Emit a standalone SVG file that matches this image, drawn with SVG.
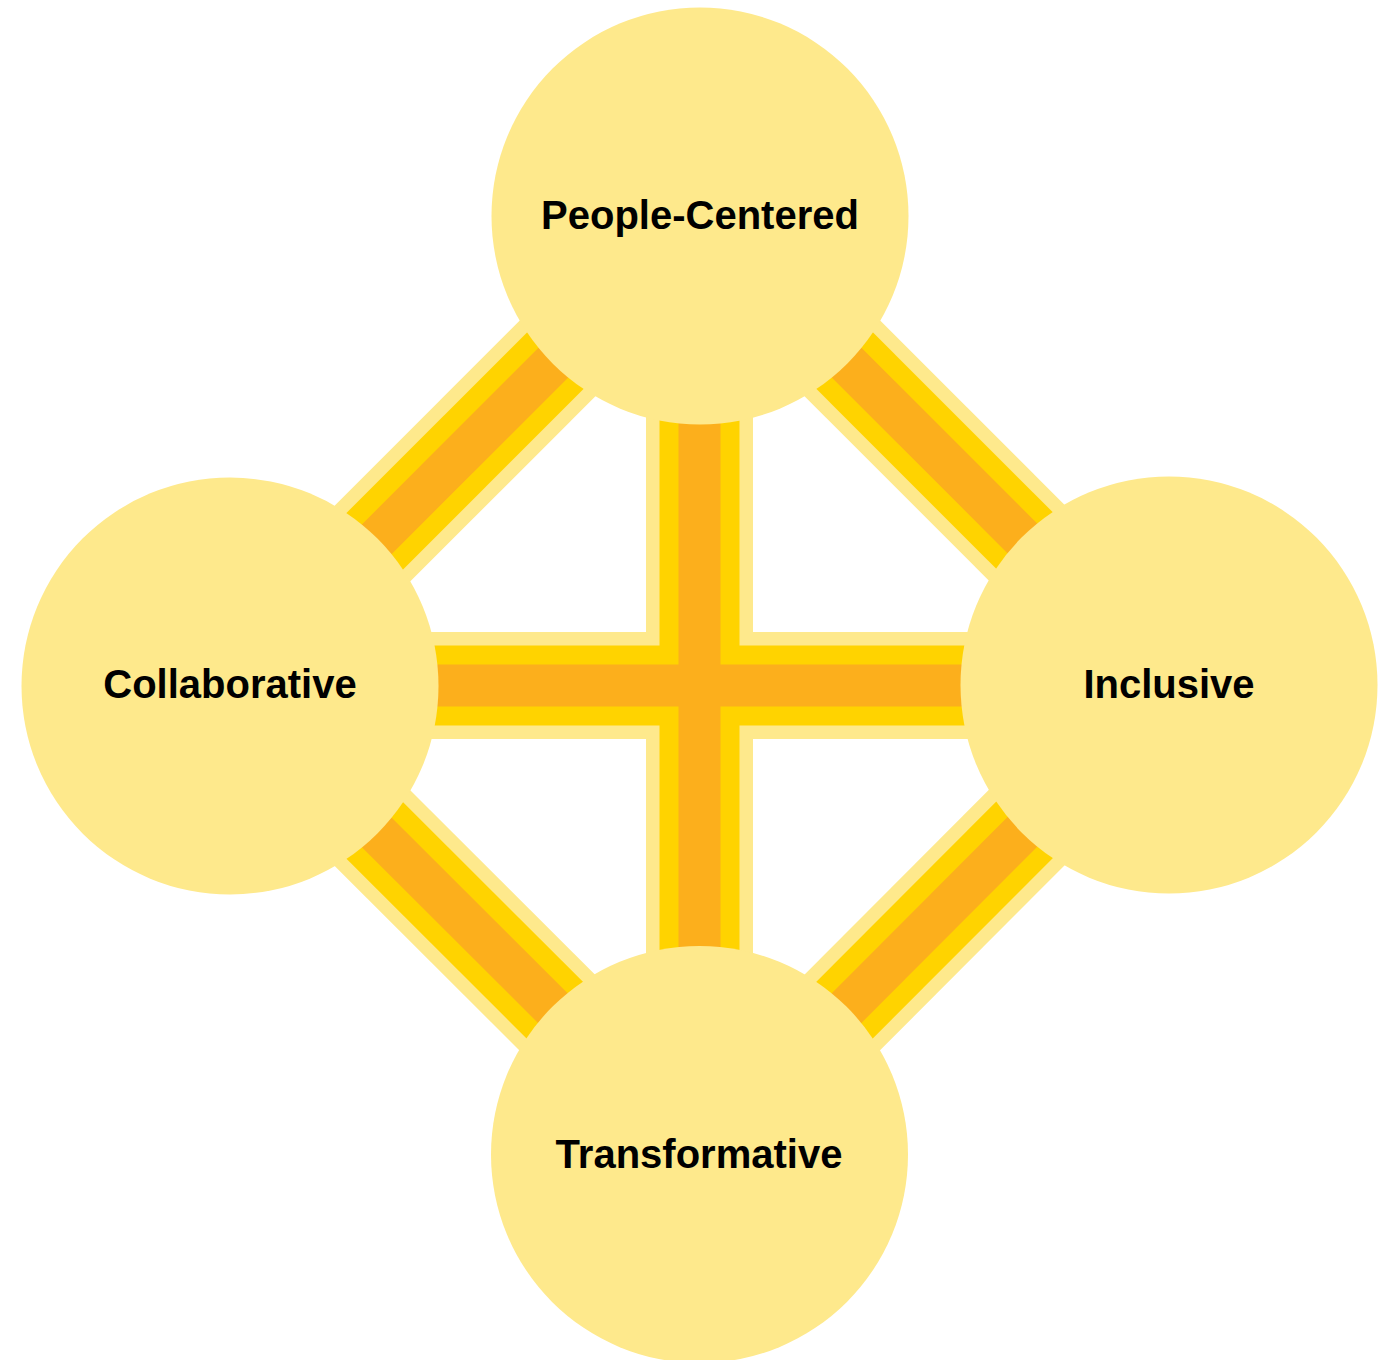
<svg xmlns="http://www.w3.org/2000/svg" width="1386" height="1360" viewBox="0 0 1386 1360">
<style>
.b0{stroke:#FEE98C;stroke-width:107;fill:none;stroke-linecap:butt}
.b1{stroke:#FFD300;stroke-width:80;fill:none;stroke-linecap:butt}
.b2{stroke:#FCAF1C;stroke-width:42;fill:none;stroke-linecap:butt}
.node circle{fill:#FEE98C}
.node text{font-family:"Liberation Sans",Arial,Helvetica,sans-serif;font-weight:bold;font-size:40px;fill:#000;text-anchor:middle}
</style>
<rect width="1386" height="1360" fill="#FFFFFF"/>
<g id="connectors">
  <g class="b0">
    <line x1="699.5" y1="216" x2="699.5" y2="1155"/>
    <line x1="230" y1="685.5" x2="1169" y2="685.5"/>
    <line x1="700" y1="216" x2="230" y2="686"/>
    <line x1="700" y1="216" x2="1169" y2="685"/>
    <line x1="230" y1="686" x2="700" y2="1155"/>
    <line x1="1169" y1="685" x2="700" y2="1155"/>
  </g>
  <g class="b1">
    <line x1="699.5" y1="216" x2="699.5" y2="1155"/>
    <line x1="230" y1="685.5" x2="1169" y2="685.5"/>
    <line x1="700" y1="216" x2="230" y2="686"/>
    <line x1="700" y1="216" x2="1169" y2="685"/>
    <line x1="230" y1="686" x2="700" y2="1155"/>
    <line x1="1169" y1="685" x2="700" y2="1155"/>
  </g>
  <g class="b2">
    <line x1="699.5" y1="216" x2="699.5" y2="1155"/>
    <line x1="230" y1="685.5" x2="1169" y2="685.5"/>
    <line x1="700" y1="216" x2="230" y2="686"/>
    <line x1="700" y1="216" x2="1169" y2="685"/>
    <line x1="230" y1="686" x2="700" y2="1155"/>
    <line x1="1169" y1="685" x2="700" y2="1155"/>
  </g>
</g>
<g id="node-people-centered" class="node">
  <circle cx="700" cy="216" r="208.5"/>
  <text x="700" y="228.5">People-Centered</text>
</g>
<g id="node-collaborative" class="node">
  <circle cx="230" cy="686" r="208.5"/>
  <text x="230" y="697.5">Collaborative</text>
</g>
<g id="node-inclusive" class="node">
  <circle cx="1169" cy="685" r="208.5"/>
  <text x="1169" y="697.5">Inclusive</text>
</g>
<g id="node-transformative" class="node">
  <circle cx="699.5" cy="1154.5" r="208.5"/>
  <text x="699" y="1167.5">Transformative</text>
</g>
</svg>
